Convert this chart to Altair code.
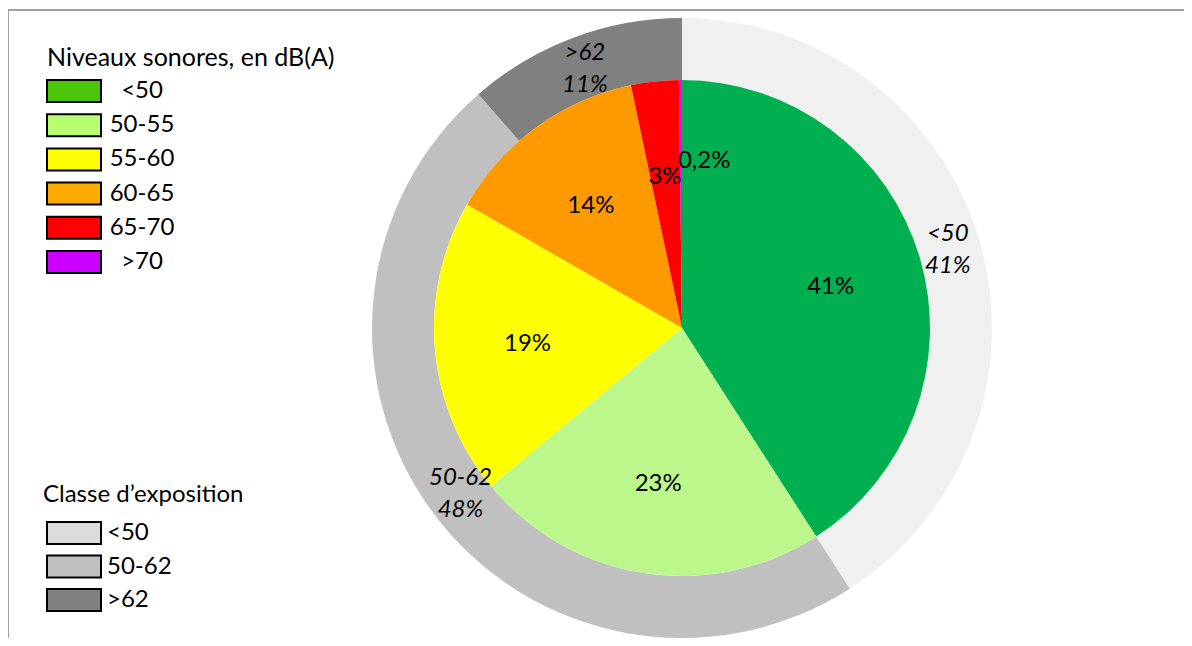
import altair as alt
import pandas as pd

# ---- data ----
niveaux = ["<50", "50-55", "55-60", "60-65", "65-70", ">70"]
parts_niveaux = [40.9, 23.1, 19.3, 13.4, 3.1, 0.2]
labels_niveaux = ["41%", "23%", "19%", "14%", "3%", "0,2%"]

classes = ["<50", "50-62", ">62"]
parts_classes = [40.9, 47.7, 11.4]
labels_classes = ["<50\n41%", "50-62\n48%", ">62\n11%"]

titre_niveaux = "Niveaux sonores, en dB(A)"
titre_classes = "Classe d\u2019exposition"

# ---- styles ----
slice_colors = ["#00B050", "#BBF78A", "#FFFF00", "#FF9900", "#FF0000", "#FF00FF"]
legend_colors = ["#4CC60A", "#B8FF70", "#FFFF00", "#FFAA00", "#FF0000", "#CC00FF"]
ring_colors = ["#F0F0F0", "#C0C0C0", "#808080"]
ring_legend_colors = ["#DCDCDC", "#C0C0C0", "#808080"]
FONT = "Lato"
CX, CY = 674, 320
R_IN, R_OUT = 248, 310
BOX = "M-1,-0.4074H1V0.4074H-1Z"

inner = pd.DataFrame({
    "cat": niveaux, "value": parts_niveaux, "label": labels_niveaux,
    "idx": list(range(len(niveaux))),
})
inner["lab_main"] = [l if i < len(niveaux) - 1 else "" for i, l in enumerate(labels_niveaux)]
inner["lab_small"] = [l if i == len(niveaux) - 1 else "" for i, l in enumerate(labels_niveaux)]
outer = pd.DataFrame({
    "cat": classes, "value": parts_classes, "label": labels_classes,
    "idx": list(range(len(classes))),
})

theta = alt.Theta("value:Q", stack=True)
order = alt.Order("idx:Q")

ring = alt.Chart(outer).mark_arc(innerRadius=R_IN, outerRadius=R_OUT).encode(
    theta=theta, order=order,
    color=alt.Color("cat:N", scale=alt.Scale(domain=classes, range=ring_colors), legend=None),
    x=alt.value(CX), y=alt.value(CY),
)
ring_text = alt.Chart(outer).mark_text(
    font=FONT, fontSize=24, fontStyle="italic", color="black", lineBreak="\n",
    lineHeight=32, dy=-16
).encode(
    theta=theta, order=order, text="label:N", radius=alt.value(277),
    x=alt.value(CX), y=alt.value(CY),
)

pie = alt.Chart(inner).mark_arc(outerRadius=R_IN).encode(
    theta=theta, order=order,
    color=alt.Color("cat:N", scale=alt.Scale(domain=niveaux, range=slice_colors), legend=None),
    x=alt.value(CX), y=alt.value(CY),
)
pie_text = alt.Chart(inner).mark_text(font=FONT, fontSize=24, color="black", dy=3).encode(
    theta=theta, order=order, text="lab_main:N", radius=alt.value(155),
    x=alt.value(CX), y=alt.value(CY),
)
pie_text_small = alt.Chart(inner).mark_text(
    font=FONT, fontSize=24, color="black", align="left", dx=-3, dy=3
).encode(
    theta=theta, order=order, text="lab_small:N", radius=alt.value(170),
    x=alt.value(CX), y=alt.value(CY),
)

# ---- legends drawn as marks ----
leg1 = pd.DataFrame({"cat": niveaux})
leg2 = pd.DataFrame({"cat": classes})

leg1_y = alt.Y("cat:N", scale=alt.Scale(type="point", domain=niveaux, range=[83, 254], padding=0), axis=None)
leg2_y = alt.Y("cat:N", scale=alt.Scale(type="point", domain=classes, range=[525, 592], padding=0), axis=None)

leg1_box = alt.Chart(leg1).mark_point(
    shape=BOX, size=2916, filled=True, opacity=1, stroke="black", strokeWidth=2
).encode(
    y=leg1_y, x=alt.value(66),
    fill=alt.Fill("cat:N", scale=alt.Scale(domain=niveaux, range=legend_colors), legend=None),
)
leg1_lab = alt.Chart(leg1).mark_text(font=FONT, fontSize=24, color="black", align="center").encode(
    y=leg1_y, x=alt.value(134), text="cat:N",
)
leg1_title = alt.Chart(pd.DataFrame({"t": [titre_niveaux]})).mark_text(
    font=FONT, fontSize=25, color="black", align="left", baseline="middle"
).encode(text="t:N", x=alt.value(39), y=alt.value(50))

leg2_box = alt.Chart(leg2).mark_point(
    shape=BOX, size=2916, filled=True, opacity=1, stroke="black", strokeWidth=2
).encode(
    y=leg2_y, x=alt.value(66),
    fill=alt.Fill("cat:N", scale=alt.Scale(domain=classes, range=ring_legend_colors), legend=None),
)
leg2_lab = alt.Chart(leg2).mark_text(font=FONT, fontSize=24, color="black", align="left").encode(
    y=leg2_y, x=alt.value(99), text="cat:N",
)
leg2_title = alt.Chart(pd.DataFrame({"t": [titre_classes]})).mark_text(
    font=FONT, fontSize=24, color="black", align="left", baseline="middle"
).encode(text="t:N", x=alt.value(35), y=alt.value(487))

# ---- frame ----
frame_left = alt.Chart(pd.DataFrame({"a": [0]})).mark_rule(color="#A0A0A0", strokeWidth=2).encode(
    x=alt.value(0), y=alt.value(1), y2=alt.value(640)
)
frame_top = alt.Chart(pd.DataFrame({"a": [0]})).mark_rule(color="#A0A0A0", strokeWidth=2).encode(
    x=alt.value(0), x2=alt.value(1180), y=alt.value(2)
)

chart = alt.layer(
    frame_left, frame_top,
    ring, pie, ring_text, pie_text, pie_text_small,
    leg1_box, leg1_lab, leg1_title,
    leg2_box, leg2_lab, leg2_title,
).resolve_scale(
    theta="independent", color="independent", fill="independent", y="independent"
).properties(
    width=1176, height=630, autosize=alt.AutoSizeParams(type="none"), padding=0
).configure_view(stroke=None)

chart.save("out.html", embed_options={"renderer": "svg", "actions": False})
